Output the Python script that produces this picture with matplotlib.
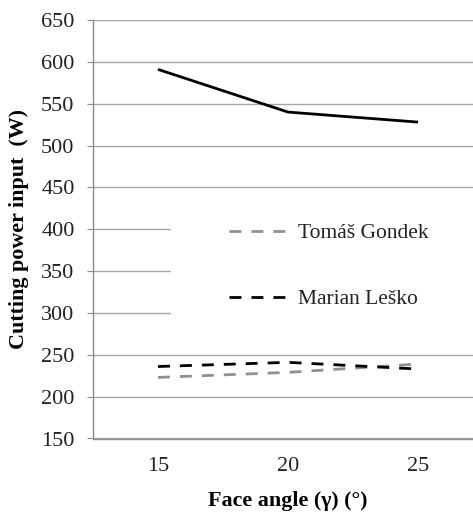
import matplotlib
matplotlib.use("Agg")
import matplotlib.pyplot as plt
from matplotlib.lines import Line2D
from matplotlib.patches import Rectangle

# Data
face_angles = ["15", "20", "25"]
power_total = [591, 540, 528]
power_gondek = [223, 229, 239]
power_lesko = [236, 241, 233]
y_ticks = [150, 200, 250, 300, 350, 400, 450, 500, 550, 600, 650]

plt.rcParams["font.family"] = ["Liberation Serif", "DejaVu Serif"]

W, H = 473, 512
fig = plt.figure(figsize=(W / 100, H / 100), dpi=100)
ax = fig.add_axes([93 / W, 1 - 438.5 / H, 390 / W, 418.5 / H])

grid_c = "#a6a6a6"
spine_c = "#8c8c8c"
gray = "#909090"
lw = 2.0
dash = (4.3, 3.6)

x = list(range(len(face_angles)))
ax.plot(x, power_total, color="black", lw=lw, solid_capstyle="butt", zorder=3)
ax.plot(x, power_gondek, color=gray, lw=lw, dashes=dash, zorder=3)
ax.plot(x, power_lesko, color="black", lw=lw, dashes=dash, zorder=3)

ax.set_xlim(-0.5, 2.5)
ax.set_ylim(150, 650)
ax.set_xticks(x)
ax.set_xticklabels(face_angles)
ax.set_yticks(y_ticks)

ax.set_axisbelow(True)
ax.yaxis.grid(True, color=grid_c, lw=1.0)
ax.xaxis.grid(False)

for s in ["top", "right"]:
    ax.spines[s].set_visible(False)
for s in ["left", "bottom"]:
    ax.spines[s].set_color(spine_c)
    ax.spines[s].set_linewidth(1.0)

ax.tick_params(axis="y", length=4.3, width=0.8, color=spine_c, pad=9,
               labelsize=16, labelcolor="#222222")
ax.tick_params(axis="x", length=0, pad=13, labelsize=16, labelcolor="#222222")

ax.set_xlabel("Face angle (γ) (°)", fontsize=15.8, fontweight="bold", labelpad=11)
ax.set_ylabel("Cutting power input  (W)", fontsize=15.8, fontweight="bold", labelpad=9)

# white legend area covering the gridlines
ax.add_patch(Rectangle((0.2, 0.247), 0.8, 0.323, transform=ax.transAxes,
                       facecolor="white", edgecolor="none", zorder=1))

handles = [
    Line2D([], [], color=gray, lw=lw, dashes=dash),
    Line2D([], [], color="black", lw=lw, dashes=dash),
]
leg = ax.legend(handles, ["Tomáš Gondek", "Marian Leško"],
                loc="upper left", bbox_to_anchor=(229 / W, 1 - 223 / H),
                bbox_transform=fig.transFigure, frameon=False,
                fontsize=15.5, handlelength=2.75, handletextpad=0.45,
                labelspacing=2.15, borderpad=0, borderaxespad=0)
for t in leg.get_texts():
    t.set_color("#222222")

fig.savefig("out.png", dpi=100)
